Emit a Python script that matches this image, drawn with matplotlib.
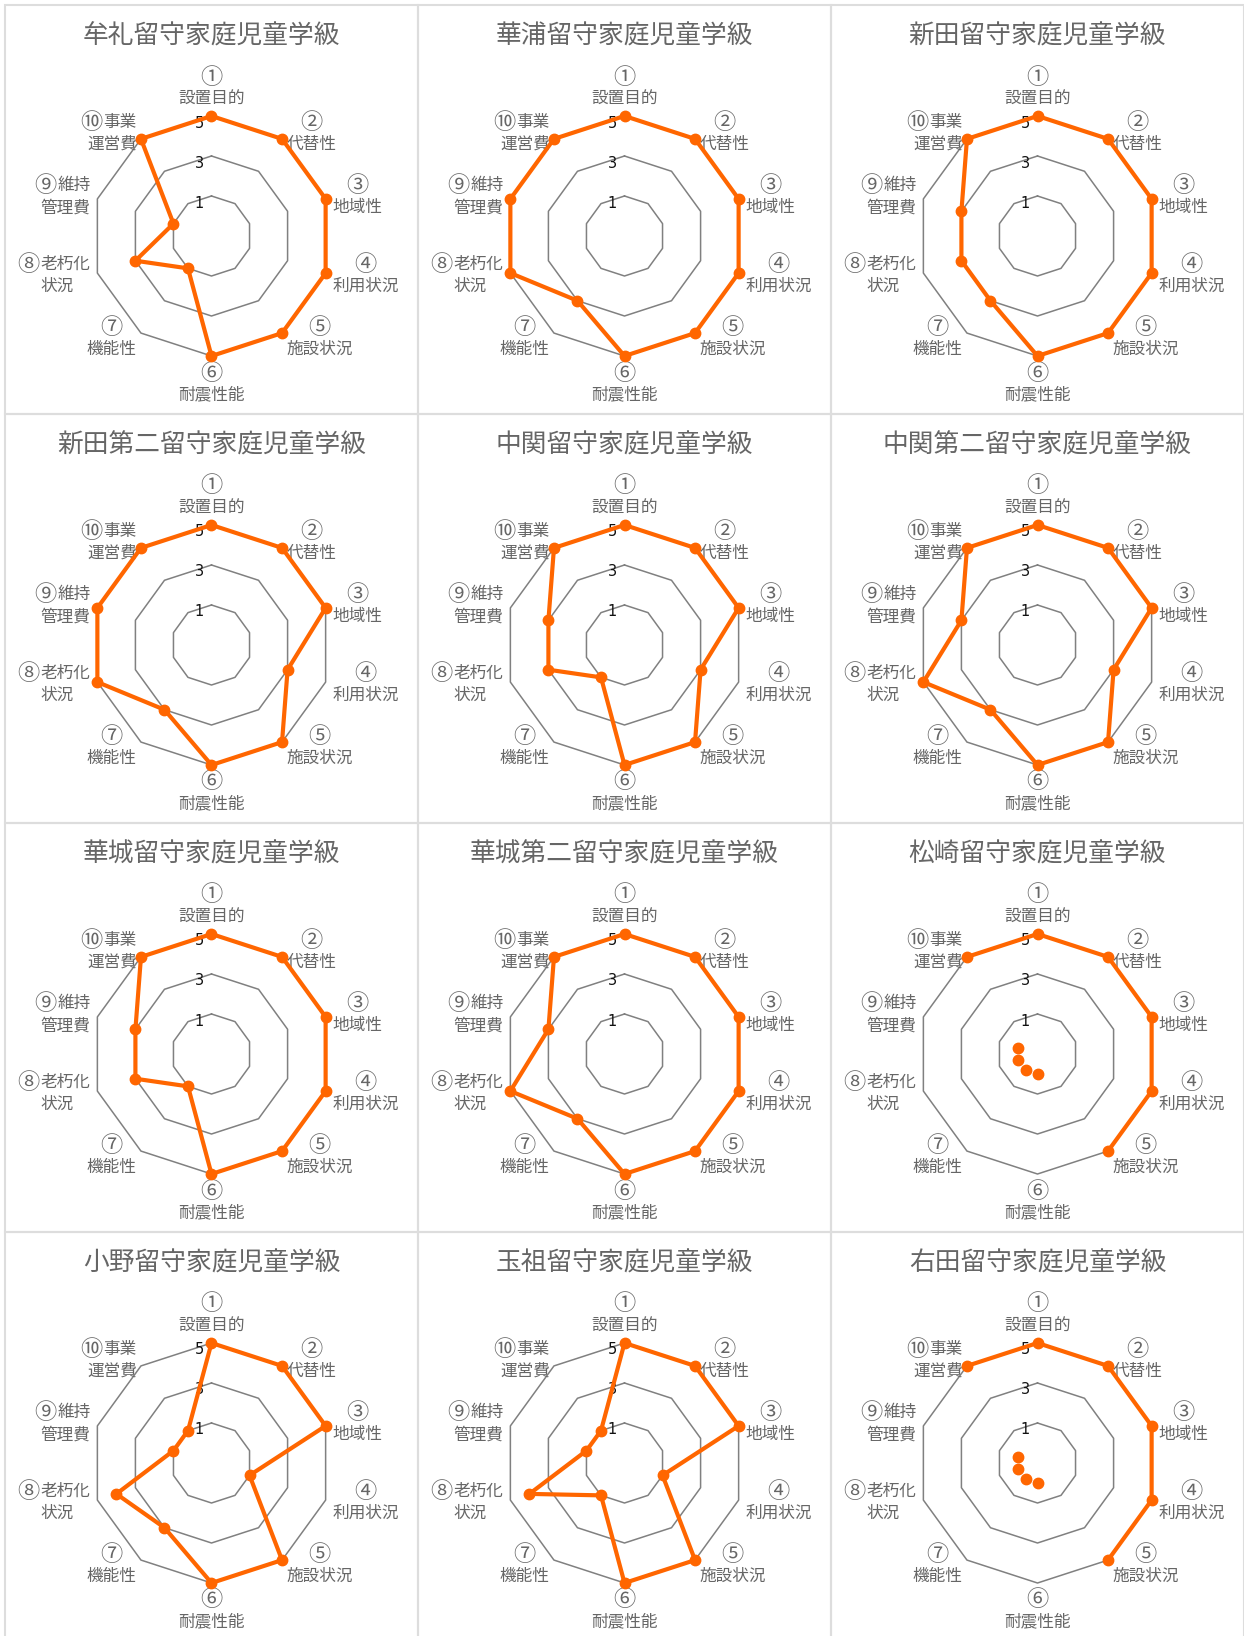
import numpy as np
import matplotlib
matplotlib.use("Agg")
import matplotlib.pyplot as plt
from matplotlib.patches import Rectangle

plt.rcParams['font.family'] = ['Noto Sans CJK JP', 'DejaVu Sans']

# axis labels: circled number, first line, second line
marks = ['①', '②', '③', '④', '⑤', '⑥', '⑦', '⑧', '⑨', '⑩']
names = [['設置目的'], ['代替性'], ['地域性'], ['利用状況'], ['施設状況'],
         ['耐震性能'], ['機能性'], ['老朽化', '状況'], ['維持', '管理費'], ['事業', '運営費']]

titles = ['牟礼留守家庭児童学級', '華浦留守家庭児童学級', '新田留守家庭児童学級',
          '新田第二留守家庭児童学級', '中関留守家庭児童学級', '中関第二留守家庭児童学級',
          '華城留守家庭児童学級', '華城第二留守家庭児童学級', '松崎留守家庭児童学級',
          '小野留守家庭児童学級', '玉祖留守家庭児童学級', '右田留守家庭児童学級']

# scores per class (0 = no line drawn)
mure = [5, 5, 5, 5, 5, 5, 1, 3, 1, 5]
hanaura = [5, 5, 5, 5, 5, 5, 3, 5, 5, 5]
nitta = [5, 5, 5, 5, 5, 5, 3, 3, 3, 5]
nitta2 = [5, 5, 5, 3, 5, 5, 3, 5, 5, 5]
nakazeki = [5, 5, 5, 3, 5, 5, 1, 3, 3, 5]
nakazeki2 = [5, 5, 5, 3, 5, 5, 3, 5, 3, 5]
kajo = [5, 5, 5, 5, 5, 5, 1, 3, 3, 5]
kajo2 = [5, 5, 5, 5, 5, 5, 3, 5, 3, 5]
matsuzaki = [5, 5, 5, 5, 5, 0, 0, 0, 0, 5]
ono = [5, 5, 5, 1, 5, 5, 3, 4, 1, 1]
tamaso = [5, 5, 5, 1, 5, 5, 1, 4, 1, 1]
migita = [5, 5, 5, 5, 5, 0, 0, 0, 0, 5]

series = [mure, hanaura, nitta, nitta2, nakazeki, nakazeki2,
          kajo, kajo2, matsuzaki, ono, tamaso, migita]

ticks = [1, 3, 5]

W, H = 1244, 1636
fig = plt.figure(figsize=(W / 100, H / 100), dpi=100)
fig.patch.set_facecolor('white')

ORANGE = '#ff6600'
GRID = '#808080'
TEXT = '#666666'

n = len(marks)
theta = np.arange(n) * 2 * np.pi / n
theta_c = np.append(theta, theta[0])

R = 120  # px radius of outer ring
px_per_unit = 20.0
label_r = 5 + 7 / px_per_unit
FS = 12.0
EM = FS * 100 / 72
FS_MARK = 16.0
LS = 22  # px between label lines


def put(ax, th, s, dx, dy, ha, size=FS):
    ax.annotate(s, xy=(th, label_r), xytext=(dx, dy), textcoords='offset pixels',
                ha=ha, va='center', fontsize=size, color=TEXT,
                annotation_clip=False, zorder=3)


def draw_label(ax, i):
    th = theta[i]
    ang = round(np.degrees(th))
    mk, nm = marks[i], names[i]
    if ang == 0:
        put(ax, th, nm[0], 0, 10, 'center')
        put(ax, th, mk, 0, 10 + LS, 'center', FS_MARK)
    elif ang == 180:
        put(ax, th, mk, 0, -10, 'center', FS_MARK)
        put(ax, th, nm[0], 0, -10 - LS, 'center')
    elif ang < 180:
        w = len(nm[0]) * EM
        put(ax, th, mk, w / 2, LS / 2, 'center', FS_MARK)
        put(ax, th, nm[0], 0, -LS / 2, 'left')
    elif len(nm) == 1:
        w = len(nm[0]) * EM
        put(ax, th, mk, -w / 2, LS / 2, 'center', FS_MARK)
        put(ax, th, nm[0], 0, -LS / 2, 'right')
    else:
        n1 = len(nm[0])
        w = (n1 + 1) * EM
        put(ax, th, nm[0], 0, LS / 2, 'right')
        put(ax, th, mk, -n1 * EM - 1, LS / 2, 'right', FS_MARK)
        put(ax, th, nm[1], -w / 2, -LS / 2, 'center')


for k, (title, vals) in enumerate(zip(titles, series)):
    row, col = divmod(k, 3)
    bx = 5 + 413 * col
    by = 5 + 409 * row
    cx = bx + 206.5
    cy = by + 231

    # panel border
    fig.add_artist(Rectangle((bx / W, 1 - (by + 409) / H), 413 / W, 409 / H,
                             transform=fig.transFigure, fill=False,
                             edgecolor='#dddddd', lw=1.5))

    fig.text(cx / W, 1 - (cy - 199) / H, title, ha='center', va='center',
             fontsize=18.5, color=TEXT)

    ax = fig.add_axes([(cx - R) / W, 1 - (cy + R) / H, 2 * R / W, 2 * R / H],
                      projection='polar')
    ax.set_theta_zero_location('N')
    ax.set_theta_direction(-1)
    ax.set_ylim(-1, 5)
    ax.axis('off')

    for t in ticks:
        ax.plot(theta_c, [t] * (n + 1), color=GRID, lw=1.1, clip_on=False, zorder=1)
        ax.annotate(str(t), xy=(0, t), xytext=(-12, -7), textcoords='offset pixels',
                    ha='center', va='center', fontsize=10.5, color='#111111',
                    family=['DejaVu Sans'], zorder=2, annotation_clip=False)

    for i in range(n):
        draw_label(ax, i)

    v = np.array(vals, dtype=float)
    vl = np.append(v, v[0])
    vl[vl <= 0] = np.nan
    ax.plot(theta_c, vl, color=ORANGE, lw=3, solid_joinstyle='round',
            clip_on=False, zorder=5)
    ax.plot(theta, v, 'o', color=ORANGE, markersize=7.5, clip_on=False, zorder=6)

fig.savefig('out.png', dpi=100, facecolor='white')
